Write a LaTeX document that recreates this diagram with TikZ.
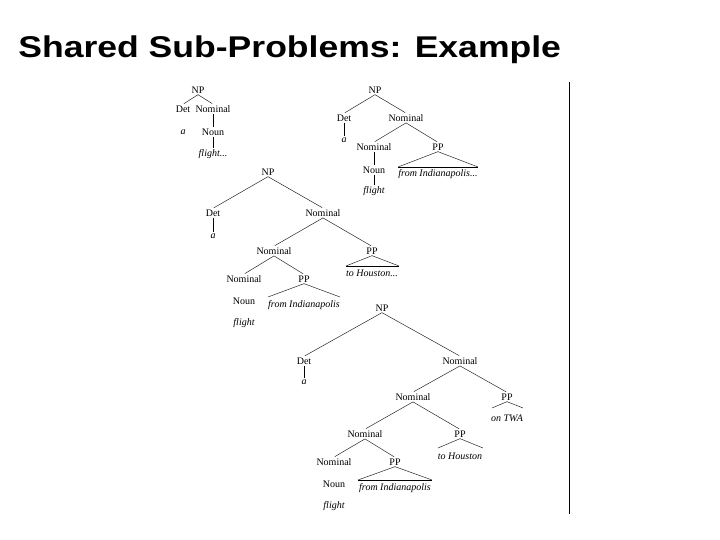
\documentclass[tikz,border=0pt]{standalone}
\usepackage{fontspec}
\setmainfont{Liberation Serif}
\newfontfamily\titlefont{Liberation Sans}

\tikzset{every picture/.style={line width=0.75pt}}
\tikzset{
  cat/.style={font=\fontsize{10}{11}\selectfont, inner sep=1pt},
  word/.style={font=\fontsize{10}{11}\selectfont\itshape, inner sep=1pt},
  branch/.style={line width=0.5pt, color=black!85, shorten >=1pt},
  stem/.style={line width=1pt},
  base/.style={line width=0.9pt},
}

\begin{document}
\begin{tikzpicture}[x=1pt,y=1pt,yscale=-1,xscale=1]
\useasboundingbox (0,0) rectangle (720,540);

% Title
\draw (18,58) node [anchor=base west, inner sep=0pt] (title) {\titlefont\bfseries\fontsize{30}{34}\selectfont\scalebox{1.185}[1]{Shared Sub-Problems: Example}};

% Right rule
\coordinate (ruletop) at (569.5,82);
\coordinate (rulebot) at (569.5,514);
\draw [line width=1.6pt] (ruletop) -- (rulebot);

%Tree 1
\draw (198,90) node [cat] (np1) {NP};
\draw (183,109) node [cat] (det1) {Det};
\draw (213,109) node [cat] (nom1) {Nominal};
\draw (183,132) node [word] (a1) {a};
\draw (213,132) node [cat] (noun1) {Noun};
\draw (213,154) node [word] (fl1) {flight...};
\draw [branch] (np1.south) -- (det1.north);
\draw [branch] (np1.south) -- (nom1.north);
\draw [stem] (nom1) -- (noun1);
\draw [stem] (noun1) -- (fl1);

%Tree 2
\draw (375,90) node [cat] (np2) {NP};
\draw (344,118) node [cat] (det2) {Det};
\draw (406,118) node [cat] (nom2) {Nominal};
\draw (344,140) node [word] (a2) {a};
\draw (374,147) node [cat] (nom2b) {Nominal};
\draw (438,147) node [cat] (pp2) {PP};
\draw (374,170) node [cat] (noun2) {Noun};
\draw (374,191) node [word] (fl2) {flight};
\coordinate (pp2l) at (398,167);
\coordinate (pp2r) at (478,167);
\draw (438,174) node [word] (txt2) {from Indianapolis...};
\draw [branch] (np2.south) -- (det2.north);
\draw [branch] (np2.south) -- (nom2.north);
\draw [stem] (det2) -- (a2);
\draw [branch] (nom2.south) -- (nom2b.north);
\draw [branch] (nom2.south) -- (pp2.north);
\draw [stem] (nom2b) -- (noun2);
\draw [stem] (noun2) -- (fl2);
\draw [branch, shorten >=0pt] (pp2l) -- (pp2.south) -- (pp2r);
\draw [base] (pp2l) -- (pp2r);

%Tree 3
\draw (268,172) node [cat] (np3) {NP};
\draw (213,213) node [cat] (det3) {Det};
\draw (213,236) node [word] (a3) {a};
\draw (323,213) node [cat] (nom3) {Nominal};
\draw (274,251) node [cat] (nom3b) {Nominal};
\draw (372,251) node [cat] (pp3) {PP};
\coordinate (pp3l) at (346,266);
\coordinate (pp3r) at (399,266);
\draw (372,273) node [word] (txt3) {to Houston...};
\draw (244,279) node [cat] (nom3c) {Nominal};
\draw (304,279) node [cat] (pp3b) {PP};
\coordinate (pp3bl) at (268,297);
\coordinate (pp3br) at (340,297);
\draw (304,305) node [word] (txt3b) {from Indianapolis};
\draw (244,301) node [cat] (noun3) {Noun};
\draw (244,323) node [word] (fl3) {flight};
\draw [branch] (np3.south) -- (det3.north);
\draw [branch] (np3.south) -- (nom3.north);
\draw [stem] (det3) -- (a3);
\draw [branch] (nom3.south) -- (nom3b.north);
\draw [branch] (nom3.south) -- (pp3.north);
\draw [branch, shorten >=0pt] (pp3l) -- (pp3.south) -- (pp3r);
\draw [base] (pp3l) -- (pp3r);
\draw [branch] (nom3b.south) -- (nom3c.north);
\draw [branch] (nom3b.south) -- (pp3b.north);
\draw [branch, shorten >=0pt] (pp3bl) -- (pp3b.south) -- (pp3br);

%Tree 4
\draw (382,308) node [cat] (np4) {NP};
\draw (304,361) node [cat] (det4) {Det};
\draw (304,382) node [word] (a4) {a};
\draw (460,361) node [cat] (nom4) {Nominal};
\draw (413,397) node [cat] (nom4b) {Nominal};
\draw (507,397) node [cat] (pp4) {PP};
\coordinate (pp4l) at (492,408);
\coordinate (pp4r) at (523,408);
\draw (507,418) node [word] (txt4) {on TWA};
\draw (365,434) node [cat] (nom4c) {Nominal};
\draw (460,434) node [cat] (pp4b) {PP};
\coordinate (pp4bl) at (438,448);
\coordinate (pp4br) at (483,448);
\draw (460,456) node [word] (txt4b) {to Houston};
\draw (334,462) node [cat] (nom4d) {Nominal};
\draw (395,462) node [cat] (pp4c) {PP};
\coordinate (pp4cl) at (358,480);
\coordinate (pp4cr) at (432,480);
\draw (395,488) node [word] (txt4c) {from Indianapolis};
\draw (334,484) node [cat] (noun4) {Noun};
\draw (334,506) node [word] (fl4) {flight};
\draw [branch] (np4.south) -- (det4.north);
\draw [branch] (np4.south) -- (nom4.north);
\draw [stem] (det4) -- (a4);
\draw [branch] (nom4.south) -- (nom4b.north);
\draw [branch] (nom4.south) -- (pp4.north);
\draw [branch, shorten >=0pt] (pp4l) -- (pp4.south) -- (pp4r);
\draw [branch] (nom4b.south) -- (nom4c.north);
\draw [branch] (nom4b.south) -- (pp4b.north);
\draw [branch, shorten >=0pt] (pp4bl) -- (pp4b.south) -- (pp4br);
\draw [branch] (nom4c.south) -- (nom4d.north);
\draw [branch] (nom4c.south) -- (pp4c.north);
\draw [branch, shorten >=0pt] (pp4cl) -- (pp4c.south) -- (pp4cr);
\draw [base] (pp4cl) -- (pp4cr);

\end{tikzpicture}
\end{document}
